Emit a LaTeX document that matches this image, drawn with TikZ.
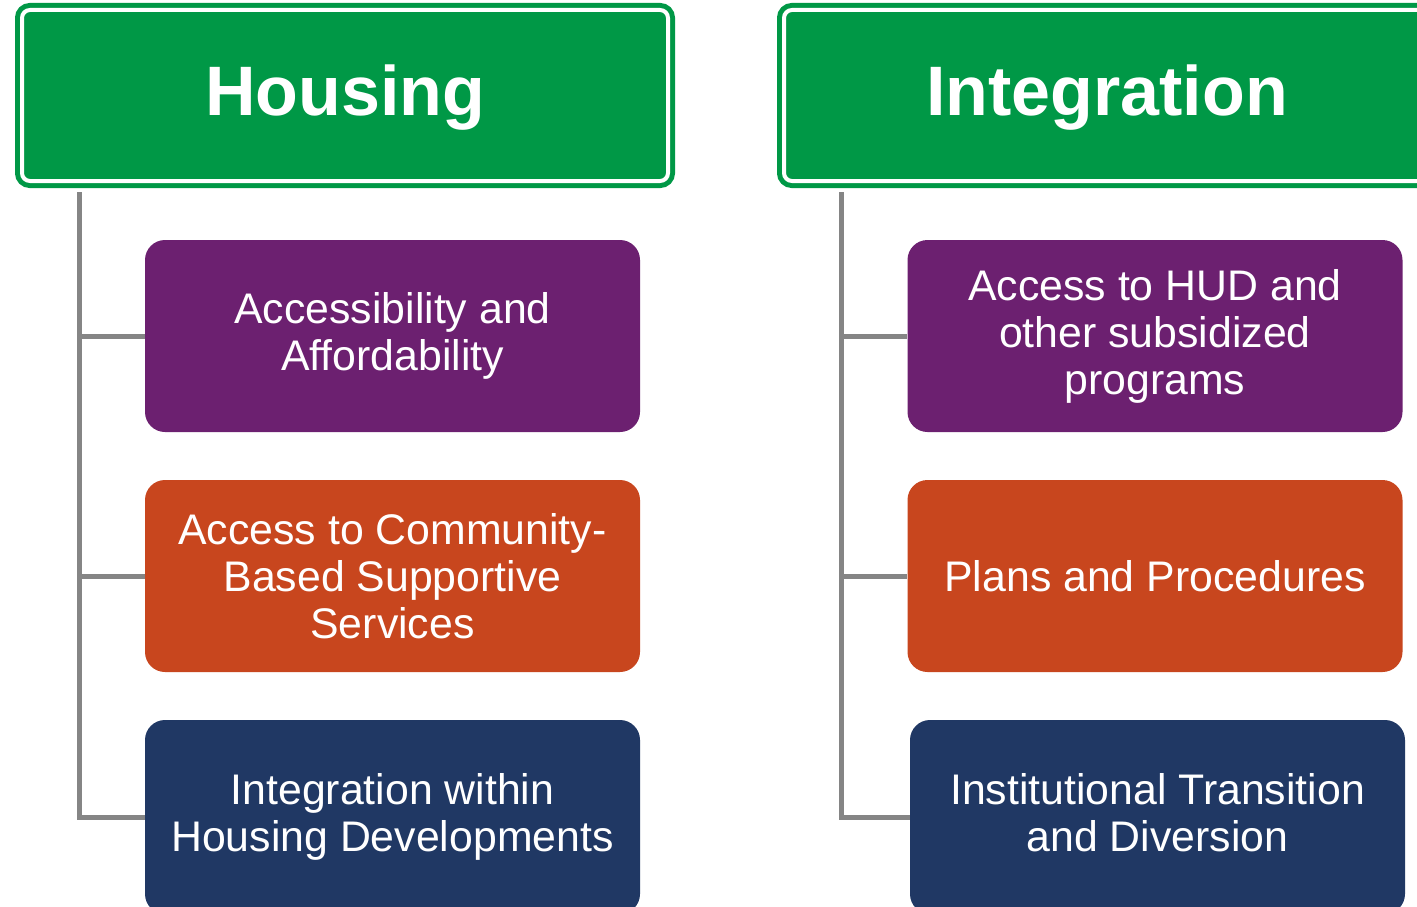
\documentclass[tikz,border=0pt]{standalone}
\usepackage{fontspec}
\setmainfont{Liberation Sans}
\definecolor{hgreen}{HTML}{009846}
\definecolor{ipurple}{HTML}{6C2070}
\definecolor{iorange}{HTML}{C8461E}
\definecolor{inavy}{HTML}{203864}
\definecolor{lgray}{HTML}{858585}
\newcommand{\dstrut}{\rule[-8.8pt]{0pt}{0pt}}
\begin{document}
\begin{tikzpicture}[x=1pt,y=-1pt,
 header/.style={draw=hgreen, fill=hgreen, line width=5pt, double=white, double distance=4pt,
   rounded corners=8pt, minimum width=646pt, minimum height=171pt, inner sep=0pt,
   text height=52pt, text depth=13pt,
   text=white, font=\fontsize{70}{80}\selectfont\bfseries},
 item/.style={fill=#1, rounded corners=20pt, minimum width=495pt, minimum height=192pt,
   inner sep=0pt, text=white, align=center, font=\fontsize{42.8}{47}\selectfont},
 conn/.style={draw=lgray, line width=5pt}
]
\path[use as bounding box, clip] (0,0) rectangle (1417,907);
\fill[white] (0,0) rectangle (1417,907);

\node[header] (H) at (345,95.5) {Housing};
\node[header] (I) at (1107,95.5) {Integration};

\node[item=ipurple] (h1) at (392.5,336) {Accessibility and\\Affordability};
\node[item=iorange] (h2) at (392.5,576) {Access to Community-\\Based Supportive\\Services};
\node[item=inavy, minimum height=194pt] (h3) at (392.5,817) {Integration within\\Housing Developments};

\node[item=ipurple] (i1) at (1155,336) {Access to HUD and\\other subsidized\\programs};
\node[item=iorange] (i2) at (1155,576) {Plans and Procedures};
\node[item=inavy, minimum height=194pt] (i3) at (1157.5,817) {Institutional Transition\\and Diversion\dstrut};

\coordinate (ht) at (79,192);
\coordinate (it) at (841,192);

\draw[conn] (ht) |- (h3.west);
\draw[conn] (ht |- h1.west) -- (h1.west);
\draw[conn] (ht |- h2.west) -- (h2.west);

\draw[conn] (it) |- (i3.west);
\draw[conn] (it |- i1.west) -- (i1.west);
\draw[conn] (it |- i2.west) -- (i2.west);
\end{tikzpicture}
\end{document}
